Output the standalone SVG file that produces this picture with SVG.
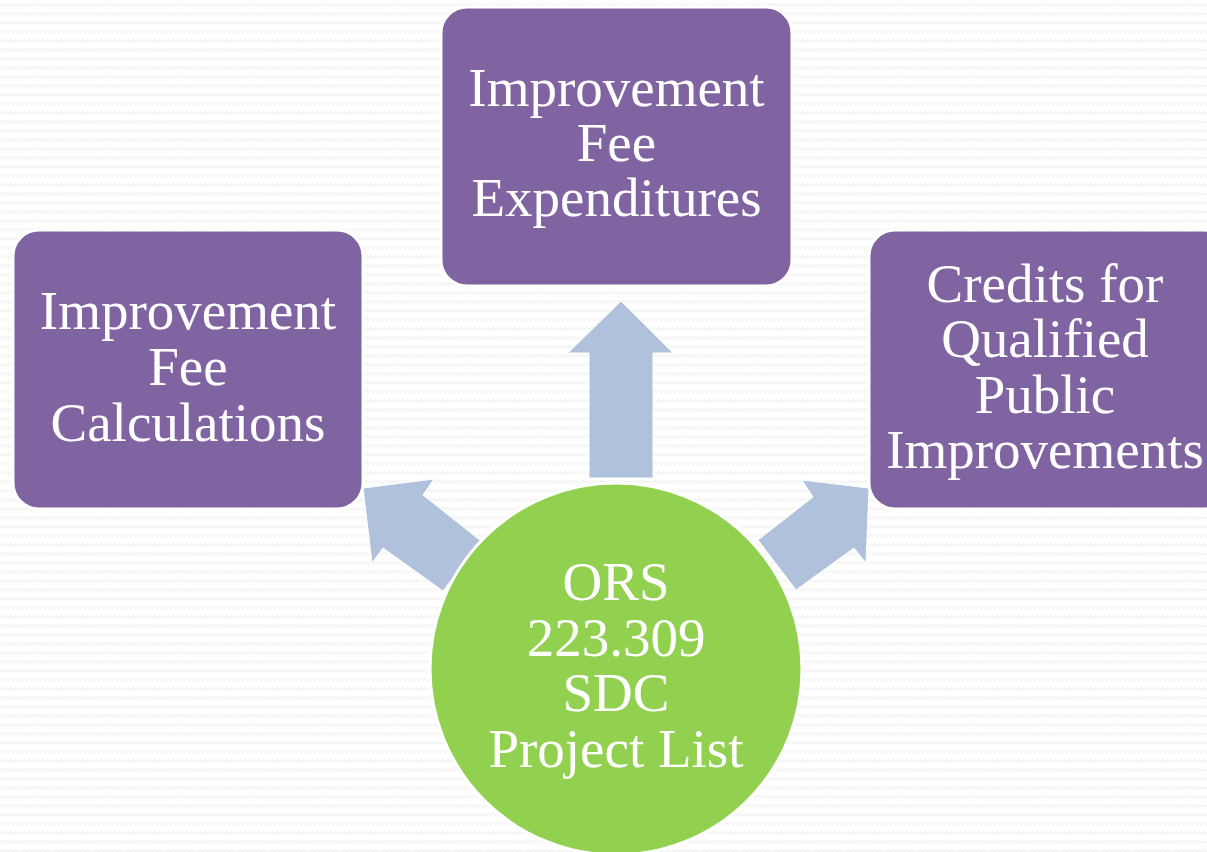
<svg xmlns="http://www.w3.org/2000/svg" width="1207" height="852" viewBox="0 0 1207 852">
<defs>
<pattern id="zz" width="9" height="9" patternUnits="userSpaceOnUse">
<polyline points="0,6 2.25,3.5 4.5,6 6.75,3.5 9,6" fill="none" stroke="#f3f3f3" stroke-width="1.2"/>
</pattern>
<style>
.box{fill:#8064A2;stroke:#ffffff;stroke-width:3}
.arr{fill:#B0C1DC;stroke:#ffffff;stroke-width:1}
.t{font-family:"Liberation Serif","DejaVu Serif",serif;font-size:55px;fill:#ffffff;text-anchor:middle}
</style>
</defs>
<rect width="1207" height="852" fill="#ffffff"/>
<rect width="1207" height="852" fill="url(#zz)"/>
<g id="connectors">
<polygon class="arr" points="621,301 673,353 653,353 653,478 589,478 589,353 568,353"/>
<polygon class="arr" points="363,488 434,479 423,495 481,541 443,591 383,548 372,563"/>
<polygon class="arr" points="869,488 802,480 813,497 758,540 796,590 854,548 866,563"/>
</g>
<g id="node-top">
<rect class="box" x="441" y="7" width="351" height="279" rx="26"/>
<text class="t" x="616.5" y="106">Improvement</text>
<text class="t" x="616.5" y="161">Fee</text>
<text class="t" x="616.5" y="216">Expenditures</text>
</g>
<g id="node-left">
<rect class="box" x="13" y="230" width="350" height="279" rx="26"/>
<text class="t" x="188" y="329">Improvement</text>
<text class="t" x="188" y="385">Fee</text>
<text class="t" x="188" y="441">Calculations</text>
</g>
<g id="node-right">
<rect class="box" x="869" y="230" width="360" height="279" rx="26"/>
<text class="t" x="1045" y="302">Credits for</text>
<text class="t" x="1045" y="357">Qualified</text>
<text class="t" x="1045" y="413">Public</text>
<text class="t" x="1045" y="468">Improvements</text>
</g>
<g id="node-center">
<circle cx="616" cy="669" r="186" fill="#92D050" stroke="#ffffff" stroke-width="3"/>
<text class="t" x="616" y="600">ORS</text>
<text class="t" x="616" y="656">223.309</text>
<text class="t" x="616" y="711">SDC</text>
<text class="t" x="616" y="767">Project List</text>
</g>
</svg>
